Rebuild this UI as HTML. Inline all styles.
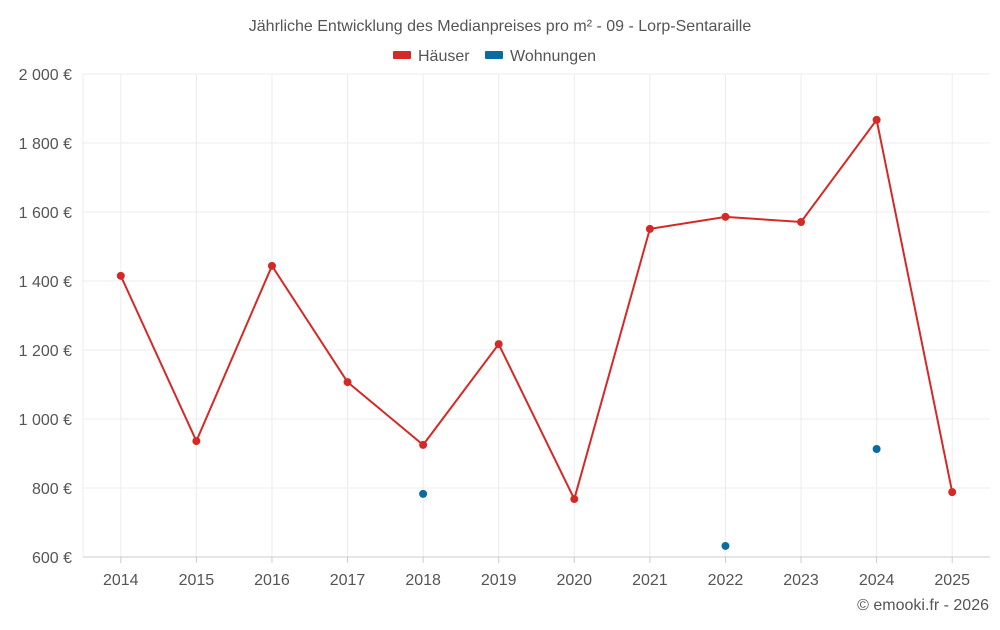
<!DOCTYPE html>
<html><head><meta charset="utf-8"><style>
body{margin:0;background:#fff;font-family:"Liberation Sans",sans-serif}
svg text{font-family:"Liberation Sans",sans-serif;fill:#555}
</style></head><body>
<svg width="1000" height="625">
<text x="500" y="31" text-anchor="middle" font-size="16">Jährliche Entwicklung des Medianpreises pro m² - 09 - Lorp-Sentaraille</text>
<g><rect x="393" y="51" width="18" height="8" fill="#d42a27" rx="1"/><text x="418" y="61" font-size="16">Häuser</text></g>
<g><rect x="485" y="51" width="18" height="8" fill="#0a6aa1" rx="1"/><text x="510" y="61" font-size="16">Wohnungen</text></g>
<g id="grid"></g><g id="axes"></g><g id="marks"></g>
<text x="989" y="610" text-anchor="end" font-size="16">© emooki.fr - 2026</text>
</svg>
<script>
const years=["2014","2015","2016","2017","2018","2019","2020","2021","2022","2023","2024","2025"];
const houses=[1415,936,1444,1107,925,1217,768,1551,1586,1571,1867,788];
const flats=[null,null,null,null,783,null,null,null,632,null,913,null];
const yTicks=[600,800,1000,1200,1400,1600,1800,2000];
const yLabels=["600 €","800 €","1 000 €","1 200 €","1 400 €","1 600 €","1 800 €","2 000 €"];
const NS="http://www.w3.org/2000/svg";
const L=83,R=990,T=74,B=557,ymin=600,ymax=2000;
const bw=(R-L)/years.length;
const x=i=>L+bw*(i+0.5);
const y=v=>B-(v-ymin)/(ymax-ymin)*(B-T);
function mk(p,t,a){const e=document.createElementNS(NS,t);for(const k in a)e.setAttribute(k,a[k]);document.getElementById(p).appendChild(e);return e;}
yTicks.forEach((v,i)=>{
 const g=mk("grid","line",{x1:L,x2:R,y1:y(v),y2:y(v),stroke:"#ececec"});
 
 
 const t=mk("axes","text",{x:72,y:y(v)+6,"text-anchor":"end","font-size":"16"});t.textContent=yLabels[i];
 
 
});
mk("grid","line",{x1:L,x2:L,y1:T,y2:B,stroke:"#ececec"});
years.forEach((yr,i)=>{
 const g=mk("grid","line",{x1:x(i),x2:x(i),y1:T,y2:B,stroke:"#ececec"});
 
 
 mk("axes","line",{x1:x(i),x2:x(i),y1:B,y2:B+6,stroke:"#ccc"});
 const t=mk("axes","text",{x:x(i),y:585,"text-anchor":"middle","font-size":"16"});t.textContent=yr;
 
 
});
const ax=mk("axes","line",{x1:L,x2:R,y1:B,y2:B,stroke:"#ccc"});


const pl=mk("marks","polyline",{points:houses.map((v,i)=>x(i)+","+y(v)).join(" "),fill:"none",stroke:"#d42a27","stroke-width":2});


houses.forEach((v,i)=>{const c=mk("marks","circle",{cx:x(i),cy:y(v),r:4,fill:"#d42a27"});
 
 });
flats.forEach((v,i)=>{if(v==null)return;const c=mk("marks","circle",{cx:x(i),cy:y(v),r:4,fill:"#0a6aa1"});
 
 });
</script>
</body></html>
